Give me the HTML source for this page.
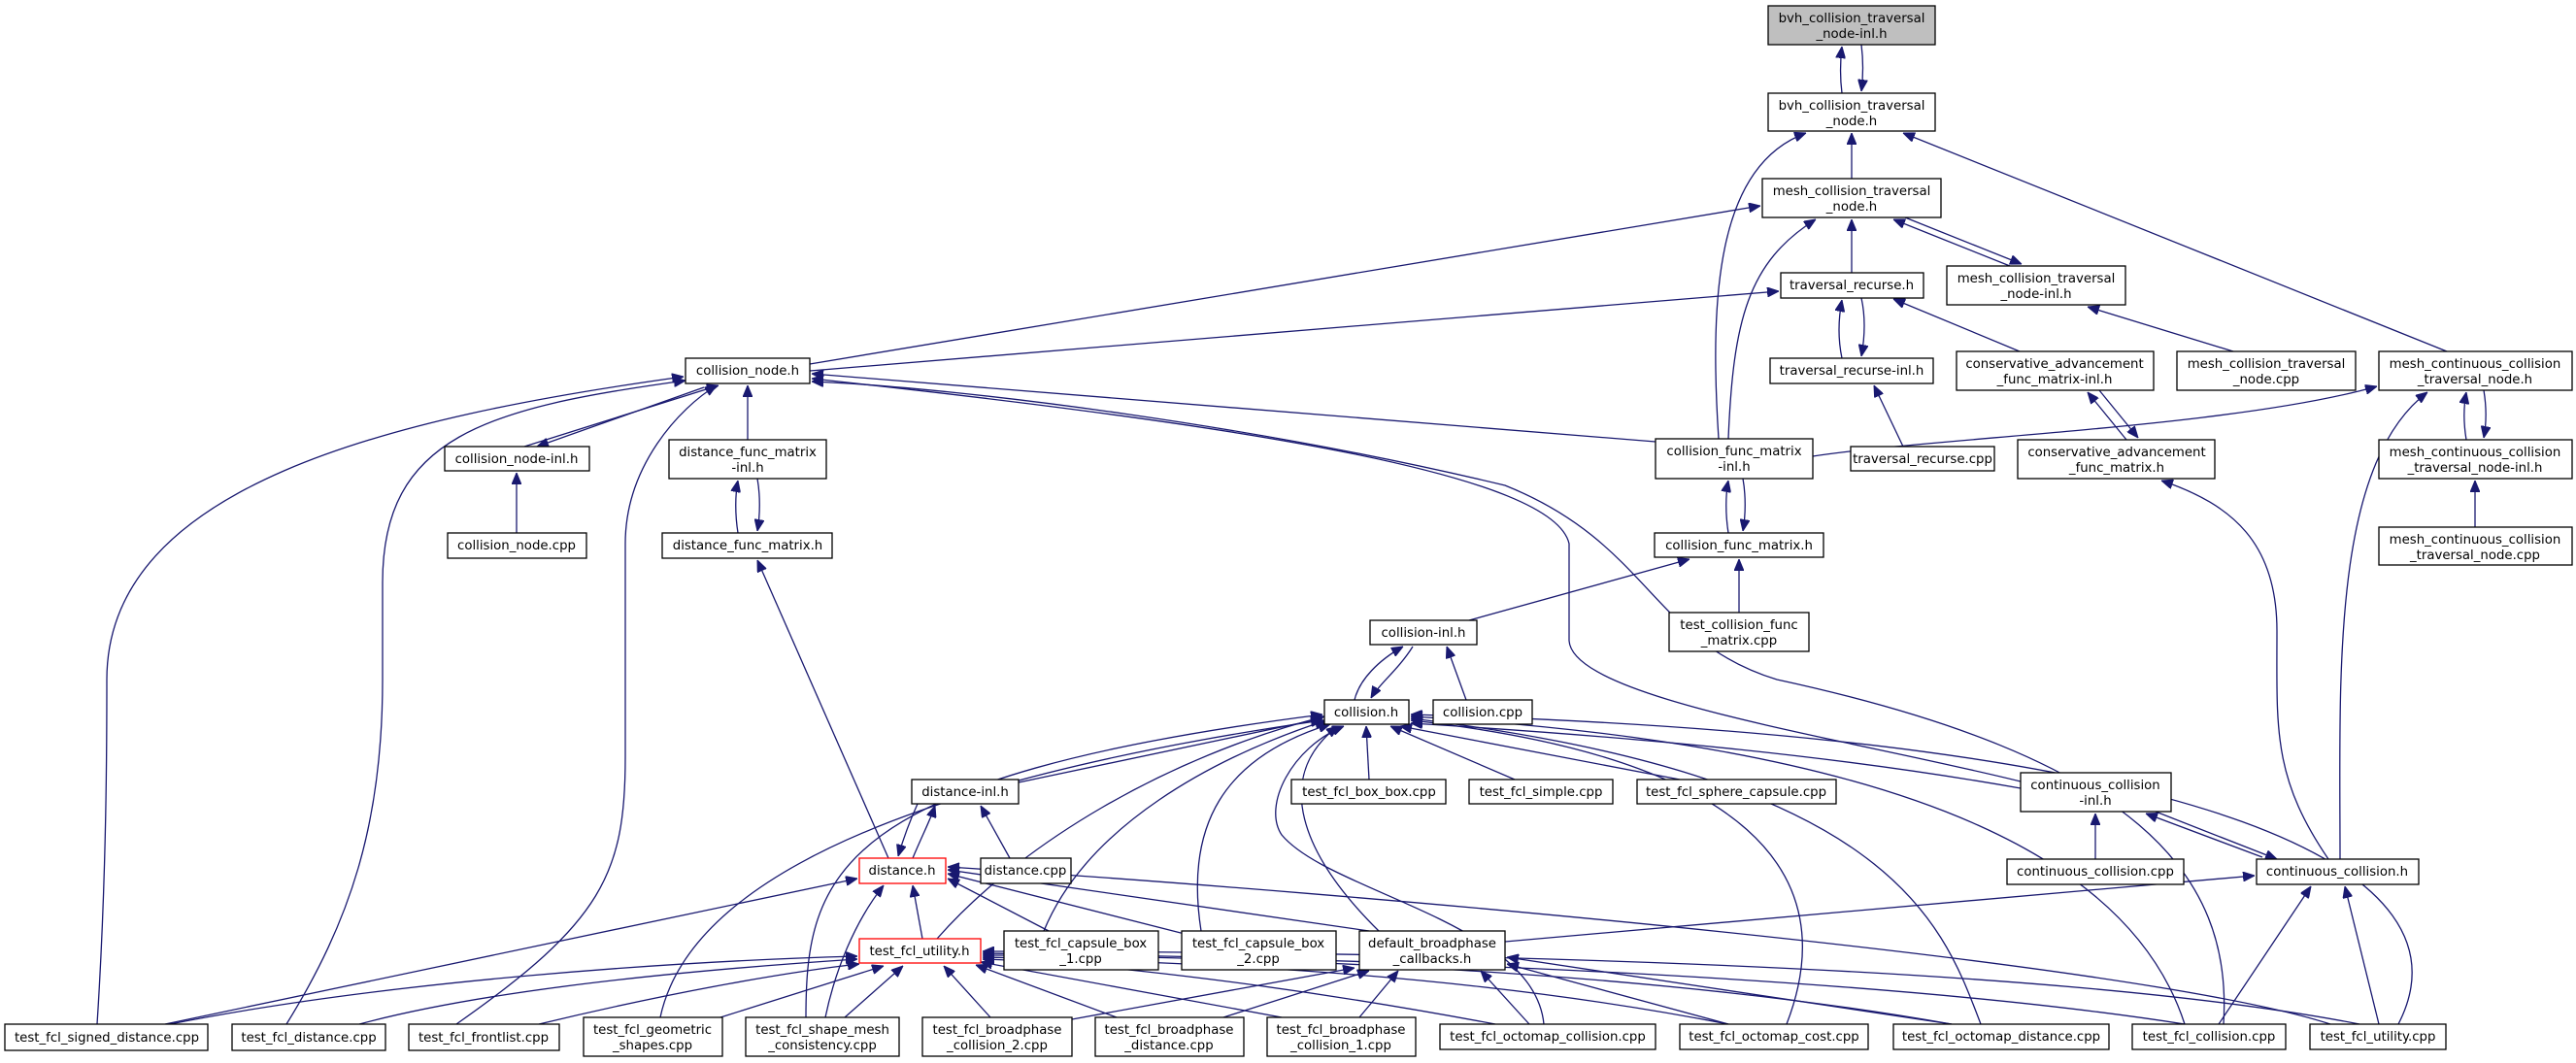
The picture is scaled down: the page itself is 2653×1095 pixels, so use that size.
<!DOCTYPE html>
<html><head><meta charset="utf-8"><style>
html,body{margin:0;padding:0;background:#fff;}
svg{display:block;}
text{font-family:"DejaVu Sans","Liberation Sans",sans-serif;font-size:13.3px;fill:#000;text-anchor:middle;}
.n{fill:#fff;stroke:#000;stroke-width:1.3;}
.r{fill:#fff;stroke:#ff0000;stroke-width:1.3;}
.g{fill:#bfbfbf;stroke:#000;stroke-width:1.3;}
.e path{fill:none;stroke:#191970;stroke-width:1.3;marker-end:url(#ah);}
</style></head><body>
<svg width="2653" height="1095" viewBox="0 0 2653 1095" xmlns="http://www.w3.org/2000/svg">
<defs><marker id="ah" markerUnits="userSpaceOnUse" markerWidth="12" markerHeight="10" refX="12" refY="5" orient="auto"><path d="M0,0 L12,5 L0,10 z" fill="#191970" stroke="#191970"/></marker></defs>
<g class="e">
<path d="M1897,96 C1895,80 1895,65 1897,48"/>
<path d="M1917,46 C1919,62 1919,78 1917,94"/>
<path d="M1907,184 L1907,137"/>
<path d="M1770,452 C1760,300 1770,170 1860,137"/>
<path d="M2520,362 L1960,137"/>
<path d="M1907,281 L1907,226"/>
<path d="M2070,274 L1950,226"/>
<path d="M1962,224 L2082,272"/>
<path d="M834,375 L1813,212"/>
<path d="M1780,452 C1785,330 1800,270 1870,226"/>
<path d="M1897,369 C1893,350 1893,330 1897,309"/>
<path d="M1917,307 C1921,325 1921,345 1917,367"/>
<path d="M2080,362 L1950,308"/>
<path d="M834,382 L1832,300"/>
<path d="M1960,460 L1930,397"/>
<path d="M2190,453 L2150,404"/>
<path d="M2162,402 L2202,451"/>
<path d="M2300,362 L2150,316"/>
<path d="M1867,470 C2000,450 2300,440 2448,398"/>
<path d="M2540,453 C2537,435 2537,420 2540,404"/>
<path d="M2558,402 C2561,420 2561,435 2558,451"/>
<path d="M2549,543 L2549,495"/>
<path d="M2410,885 C2410,700 2400,480 2500,404"/>
<path d="M2398,885 C2340,800 2345,750 2345,650 C2345,560 2300,520 2226,495"/>
<path d="M540,460 L740,397"/>
<path d="M725,399 L553,460"/>
<path d="M100,1055 C110,900 110,760 110,700 C110,500 400,430 704,388"/>
<path d="M295,1055 C360,950 394,850 394,700 L394,600 C394,450 500,420 706,392"/>
<path d="M470,1055 C620,950 644,900 644,780 L644,560 C644,480 700,420 738,397"/>
<path d="M770,453 L770,397"/>
<path d="M532,549 L532,487"/>
<path d="M760,549 C757,530 757,510 760,495"/>
<path d="M780,493 C783,510 783,530 780,547"/>
<path d="M915,884 L780,577"/>
<path d="M1705,455 L836,385"/>
<path d="M2081,805 C1900,760 1620,720 1616,660 L1616,560 C1600,490 1300,440 836,390"/>
<path d="M2290,1055 C2300,900 2200,780 1830,700 C1700,660 1700,560 1550,500 C1300,440 1000,400 836,393"/>
<path d="M1780,549 C1777,530 1777,510 1780,495"/>
<path d="M1795,493 C1798,510 1798,530 1795,547"/>
<path d="M1791,631 L1791,576"/>
<path d="M1513,639 L1740,576"/>
<path d="M1395,721 C1400,700 1420,680 1445,666"/>
<path d="M1455,666 C1440,690 1420,705 1412,719"/>
<path d="M1510,721 L1490,666"/>
<path d="M1410,803 L1407,748"/>
<path d="M1560,803 L1432,748"/>
<path d="M1730,803 L1442,748"/>
<path d="M1049,806 L1362,740"/>
<path d="M2081,812 C1900,780 1700,760 1453,745"/>
<path d="M965,967 C1050,870 1200,780 1364,738"/>
<path d="M1075,959 C1120,850 1250,780 1366,742"/>
<path d="M1237,959 C1220,850 1260,780 1370,746"/>
<path d="M1420,959 C1340,880 1310,800 1378,748"/>
<path d="M680,1048 C720,860 1100,780 1362,742"/>
<path d="M830,1048 C830,900 860,800 1362,736"/>
<path d="M1590,1055 C1580,950 1370,920 1320,860 C1300,830 1330,770 1384,748"/>
<path d="M1840,1055 C1900,900 1800,780 1453,742"/>
<path d="M2040,1055 C2000,950 1950,800 1453,740"/>
<path d="M2250,1055 C2200,900 2000,770 1453,738"/>
<path d="M2470,1055 C2550,900 2300,760 1453,736"/>
<path d="M945,828 C935,850 930,865 925,882"/>
<path d="M940,884 C950,860 958,845 963,830"/>
<path d="M1040,884 L1010,830"/>
<path d="M950,967 L940,912"/>
<path d="M1080,959 L976,905"/>
<path d="M1220,962 L976,900"/>
<path d="M1410,959 L976,896"/>
<path d="M2400,1055 C2200,990 1400,920 976,893"/>
<path d="M170,1055 L883,905"/>
<path d="M850,1048 C860,1000 880,950 910,912"/>
<path d="M175,1055 C400,1010 700,990 883,985"/>
<path d="M370,1055 C500,1020 700,1000 883,988"/>
<path d="M555,1055 C700,1020 820,1000 885,993"/>
<path d="M742,1048 L910,995"/>
<path d="M870,1048 L930,995"/>
<path d="M1020,1048 L972,995"/>
<path d="M1150,1048 L1005,994"/>
<path d="M1320,1048 L1010,991"/>
<path d="M1540,1055 C1300,1010 1100,990 1012,988"/>
<path d="M1780,1055 C1500,1000 1200,990 1012,986"/>
<path d="M2010,1055 C1700,1000 1300,985 1012,984"/>
<path d="M2250,1055 C1900,1000 1300,985 1012,982"/>
<path d="M2430,1055 C2100,990 1400,980 1012,980"/>
<path d="M1104,1050 L1395,997"/>
<path d="M1260,1048 L1410,1000"/>
<path d="M1400,1048 L1440,1000"/>
<path d="M1575,1055 L1525,1000"/>
<path d="M1780,1055 L1552,993"/>
<path d="M2010,1055 L1552,986"/>
<path d="M1550,970 L2322,902"/>
<path d="M2220,836 L2345,885"/>
<path d="M2330,883 L2210,838"/>
<path d="M2158,885 L2158,838"/>
<path d="M2285,1055 L2380,913"/>
<path d="M2450,1055 L2415,913"/>
</g>
<g>
<rect class="g" x="1821" y="6" width="172" height="40"/><text x="1907" y="23">bvh_collision_traversal</text><text x="1907" y="39">_node-inl.h</text>
<rect class="n" x="1821" y="96" width="172" height="39"/><text x="1907" y="113">bvh_collision_traversal</text><text x="1907" y="129">_node.h</text>
<rect class="n" x="1815" y="184" width="184" height="40"/><text x="1907" y="201">mesh_collision_traversal</text><text x="1907" y="217">_node.h</text>
<rect class="n" x="1834" y="281" width="147" height="26"/><text x="1907" y="298">traversal_recurse.h</text>
<rect class="n" x="2005" y="274" width="184" height="40"/><text x="2097" y="291">mesh_collision_traversal</text><text x="2097" y="307">_node-inl.h</text>
<rect class="n" x="1823" y="369" width="168" height="26"/><text x="1907" y="386">traversal_recurse-inl.h</text>
<rect class="n" x="2015" y="362" width="203" height="40"/><text x="2116" y="379">conservative_advancement</text><text x="2116" y="395">_func_matrix-inl.h</text>
<rect class="n" x="2242" y="362" width="184" height="40"/><text x="2334" y="379">mesh_collision_traversal</text><text x="2334" y="395">_node.cpp</text>
<rect class="n" x="2450" y="362" width="199" height="40"/><text x="2549" y="379">mesh_continuous_collision</text><text x="2549" y="395">_traversal_node.h</text>
<rect class="n" x="706" y="369" width="128" height="26"/><text x="770" y="386">collision_node.h</text>
<rect class="n" x="1705" y="452" width="162" height="41"/><text x="1786" y="469">collision_func_matrix</text><text x="1786" y="485">-inl.h</text>
<rect class="n" x="1906" y="460" width="148" height="25"/><text x="1980" y="477">traversal_recurse.cpp</text>
<rect class="n" x="2078" y="453" width="203" height="40"/><text x="2180" y="470">conservative_advancement</text><text x="2180" y="486">_func_matrix.h</text>
<rect class="n" x="2450" y="453" width="199" height="40"/><text x="2549" y="470">mesh_continuous_collision</text><text x="2549" y="486">_traversal_node-inl.h</text>
<rect class="n" x="458" y="460" width="149" height="25"/><text x="532" y="477">collision_node-inl.h</text>
<rect class="n" x="689" y="453" width="162" height="40"/><text x="770" y="470">distance_func_matrix</text><text x="770" y="486">-inl.h</text>
<rect class="n" x="461" y="549" width="143" height="26"/><text x="532" y="566">collision_node.cpp</text>
<rect class="n" x="682" y="549" width="175" height="26"/><text x="770" y="566">distance_func_matrix.h</text>
<rect class="n" x="1704" y="549" width="174" height="25"/><text x="1791" y="566">collision_func_matrix.h</text>
<rect class="n" x="2450" y="543" width="199" height="39"/><text x="2549" y="560">mesh_continuous_collision</text><text x="2549" y="576">_traversal_node.cpp</text>
<rect class="n" x="1411" y="639" width="110" height="25"/><text x="1466" y="656">collision-inl.h</text>
<rect class="n" x="1719" y="631" width="144" height="40"/><text x="1791" y="648">test_collision_func</text><text x="1791" y="664">_matrix.cpp</text>
<rect class="n" x="1364" y="721" width="87" height="25"/><text x="1407" y="738">collision.h</text>
<rect class="n" x="1476" y="721" width="102" height="25"/><text x="1527" y="738">collision.cpp</text>
<rect class="n" x="939" y="803" width="110" height="25"/><text x="994" y="820">distance-inl.h</text>
<rect class="n" x="1330" y="803" width="159" height="25"/><text x="1410" y="820">test_fcl_box_box.cpp</text>
<rect class="n" x="1513" y="803" width="148" height="25"/><text x="1587" y="820">test_fcl_simple.cpp</text>
<rect class="n" x="1686" y="803" width="205" height="25"/><text x="1788" y="820">test_fcl_sphere_capsule.cpp</text>
<rect class="n" x="2081" y="796" width="155" height="40"/><text x="2158" y="813">continuous_collision</text><text x="2158" y="829">-inl.h</text>
<rect class="r" x="885" y="884" width="89" height="26"/><text x="929" y="901">distance.h</text>
<rect class="n" x="1010" y="884" width="93" height="26"/><text x="1056" y="901">distance.cpp</text>
<rect class="n" x="2067" y="885" width="182" height="26"/><text x="2158" y="902">continuous_collision.cpp</text>
<rect class="n" x="2324" y="885" width="167" height="26"/><text x="2407" y="902">continuous_collision.h</text>
<rect class="r" x="885" y="967" width="125" height="25"/><text x="947" y="984">test_fcl_utility.h</text>
<rect class="n" x="1034" y="959" width="159" height="40"/><text x="1113" y="976">test_fcl_capsule_box</text><text x="1113" y="992">_1.cpp</text>
<rect class="n" x="1217" y="959" width="159" height="40"/><text x="1296" y="976">test_fcl_capsule_box</text><text x="1296" y="992">_2.cpp</text>
<rect class="n" x="1400" y="959" width="150" height="40"/><text x="1475" y="976">default_broadphase</text><text x="1475" y="992">_callbacks.h</text>
<rect class="n" x="5" y="1055" width="209" height="27"/><text x="110" y="1073">test_fcl_signed_distance.cpp</text>
<rect class="n" x="239" y="1055" width="158" height="27"/><text x="318" y="1073">test_fcl_distance.cpp</text>
<rect class="n" x="421" y="1055" width="155" height="27"/><text x="498" y="1073">test_fcl_frontlist.cpp</text>
<rect class="n" x="601" y="1048" width="143" height="40"/><text x="672" y="1065">test_fcl_geometric</text><text x="672" y="1081">_shapes.cpp</text>
<rect class="n" x="768" y="1048" width="158" height="40"/><text x="847" y="1065">test_fcl_shape_mesh</text><text x="847" y="1081">_consistency.cpp</text>
<rect class="n" x="950" y="1048" width="154" height="40"/><text x="1027" y="1065">test_fcl_broadphase</text><text x="1027" y="1081">_collision_2.cpp</text>
<rect class="n" x="1128" y="1048" width="153" height="40"/><text x="1204" y="1065">test_fcl_broadphase</text><text x="1204" y="1081">_distance.cpp</text>
<rect class="n" x="1305" y="1048" width="153" height="40"/><text x="1381" y="1065">test_fcl_broadphase</text><text x="1381" y="1081">_collision_1.cpp</text>
<rect class="n" x="1483" y="1055" width="222" height="26"/><text x="1594" y="1072">test_fcl_octomap_collision.cpp</text>
<rect class="n" x="1730" y="1055" width="194" height="26"/><text x="1827" y="1072">test_fcl_octomap_cost.cpp</text>
<rect class="n" x="1950" y="1055" width="222" height="26"/><text x="2061" y="1072">test_fcl_octomap_distance.cpp</text>
<rect class="n" x="2196" y="1055" width="158" height="26"/><text x="2275" y="1072">test_fcl_collision.cpp</text>
<rect class="n" x="2379" y="1055" width="140" height="26"/><text x="2449" y="1072">test_fcl_utility.cpp</text>
</g>
</svg>
</body></html>
